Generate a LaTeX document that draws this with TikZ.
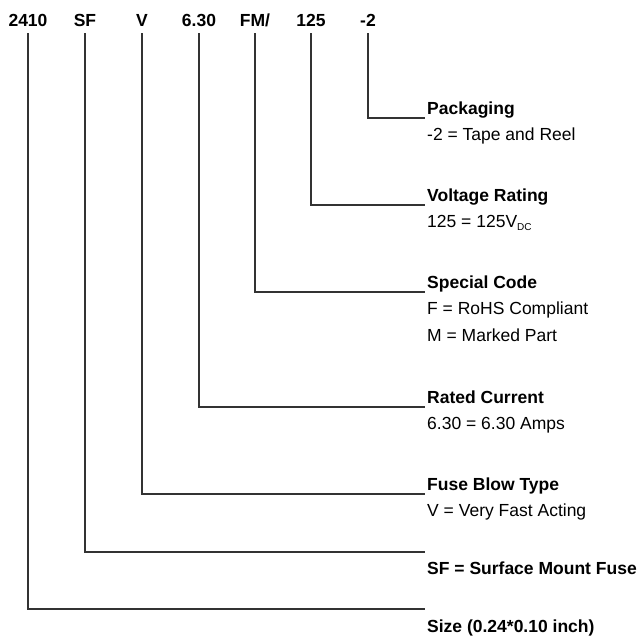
\documentclass[tikz,border=0pt]{standalone}
\usepackage{fontspec}
\setmainfont{Liberation Sans}

\begin{document}
\begin{tikzpicture}[x=1pt, y=-1pt,
    code/.style ={font=\fontsize{17.5}{20}\selectfont\bfseries, inner sep=0pt, anchor=base},
    heading/.style ={font=\fontsize{17.5}{20}\selectfont\bfseries, inner sep=0pt, anchor=base west},
    desc/.style ={font=\fontsize{17.5}{20}\selectfont, inner sep=0pt, anchor=base west},
    leader/.style ={line width=1.1pt, black!80}]
   \useasboundingbox (0,0) rectangle (643,637);

   \node[code] (size) at (28,26)  {2410};
   \node[code] (mount) at (85,26)  {SF};
   \node[code] (blow) at (142,26)  {V};
   \node[code] (current) at (199,26)  {6.30};
   \node[code] (special) at (255,26)  {FM/};
   \node[code] (voltage) at (311,26)  {125};
   \node[code] (pack) at (368,26)  {-2};

   \coordinate (packend) at (425,118);
   \coordinate (voltageend) at (425,205);
   \coordinate (specialend) at (425,292);
   \coordinate (currentend) at (425,407);
   \coordinate (blowend) at (425,494);
   \coordinate (mountend) at (425,552);
   \coordinate (sizeend) at (425,609);

   \node[heading] (packhead) at (427,114)  {Packaging};
   \node[desc] (packdesc) at (427,140)  {-2 = Tape and Reel};
   \node[heading] (voltagehead) at (427,201)  {Voltage Rating};
   \node[desc] (voltagedesc) at (427,227)  {125 = 125V\raisebox{-0.35ex}{\fontsize{10}{10}\selectfont DC}};
   \node[heading] (specialhead) at (427,288)  {Special Code};
   \node[desc] (specialdesc1) at (427,314)  {F = RoHS Compliant};
   \node[desc] (specialdesc2) at (427,341)  {M = Marked Part};
   \node[heading] (currenthead) at (427,403)  {Rated Current};
   \node[desc] (currentdesc) at (427,429)  {6.30 = 6.30 Amps};
   \node[heading] (blowhead) at (427,490)  {Fuse Blow Type};
   \node[desc] (blowdesc) at (427,516)  {V = Very Fast Acting};
   \node[heading] (mounthead) at (427,574)  {SF = Surface Mount Fuse};
   \node[heading] (sizehead) at (427,632)  {Size (0.24*0.10 inch)};

   \draw[leader] ([yshift=-7pt]pack.base) |- (packend);
   \draw[leader] ([yshift=-7pt]voltage.base) |- (voltageend);
   \draw[leader] ([yshift=-7pt]special.base) |- (specialend);
   \draw[leader] ([yshift=-7pt]current.base) |- (currentend);
   \draw[leader] ([yshift=-7pt]blow.base) |- (blowend);
   \draw[leader] ([yshift=-7pt]mount.base) |- (mountend);
   \draw[leader] ([yshift=-7pt]size.base) |- (sizeend);
 \end{tikzpicture}
\end{document}
